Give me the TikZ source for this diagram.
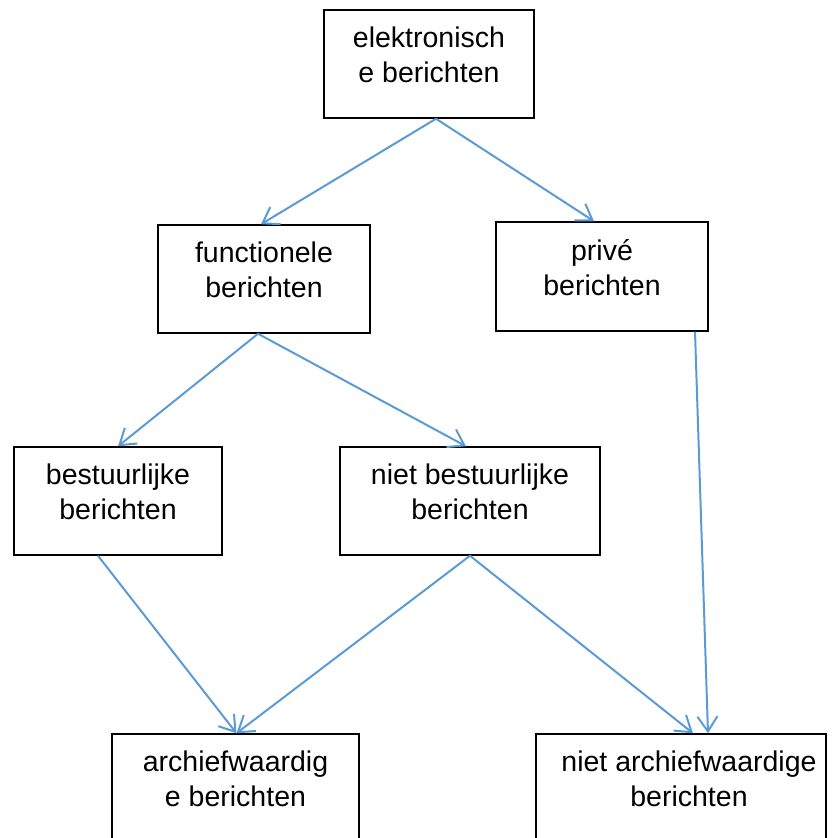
\documentclass[tikz,border=0pt]{standalone}
\usepackage{fontspec}
\setmainfont{Liberation Sans}
\usetikzlibrary{arrows.meta}
\definecolor{pijlblauw}{RGB}{91,155,213}
\begin{document}
\begin{tikzpicture}[x=1bp, y=-1bp,
	kader/.style 2 args={draw, line width=1.5bp, minimum width=#1bp, minimum height=#2bp, inner sep=0pt},
	tekst/.style={align=center, inner sep=0pt, font=\fontsize{28.5bp}{35bp}\selectfont},
	pijl/.style={draw=pijlblauw, line width=2bp, -{Straight Barb[length=15bp, width=20bp, line width=2bp]}}]
	\useasboundingbox (0,0) rectangle (833,838);
	
	% Draw the boxes
	\node[kader={210}{108}] (elek) at (429,64) {};
	\node[kader={212}{108}] (func) at (264,279) {};
	\node[kader={212}{109}] (prive) at (602,276.5) {};
	\node[kader={208}{108}] (best) at (118,501) {};
	\node[kader={260}{108}] (nietbest) at (470,501) {};
	\node[kader={247}{108}] (arch) at (235.5,788) {};
	\node[kader={290}{108}] (nietarch) at (681,788) {};
	
	% Draw the box labels
	\node[tekst] (elek-t) at ([yshift=9bp]elek.center) {elektronisch\\e berichten};
	\node[tekst] (func-t) at ([yshift=9bp]func.center) {functionele\\berichten};
	\node[tekst] (prive-t) at ([yshift=9bp]prive.center) {privé\\berichten};
	\node[tekst] (best-t) at ([yshift=9bp]best.center) {bestuurlijke\\berichten};
	\node[tekst] (nietbest-t) at ([yshift=9bp]nietbest.center) {niet bestuurlijke\\berichten};
	\node[tekst] (arch-t) at ([yshift=9bp]arch.center) {archiefwaardig\\e berichten};
	\node[tekst] (nietarch-t) at ([xshift=8bp,yshift=9bp]nietarch.center) {niet archiefwaardige\\berichten};
	
	% Draw the arrows
	\draw[pijl] ([xshift=7bp]elek.south) -- ([xshift=-3bp]func.north);
	\draw[pijl] ([xshift=7bp]elek.south) -- ([xshift=-8bp]prive.north);
	\draw[pijl] ([xshift=-6bp]func.south) -- (best.north);
	\draw[pijl] ([xshift=-6bp]func.south) -- ([xshift=-4bp]nietbest.north);
	\draw[pijl] ([xshift=93bp]prive.south) -- ([xshift=27bp]nietarch.north);
	\draw[pijl] ([xshift=-20bp]best.south) -- ([xshift=1bp]arch.north);
	\draw[pijl] (nietbest.south) -- ([xshift=1bp]arch.north);
	\draw[pijl] (nietbest.south) -- ([xshift=12bp]nietarch.north);
	
\end{tikzpicture}
\end{document}
